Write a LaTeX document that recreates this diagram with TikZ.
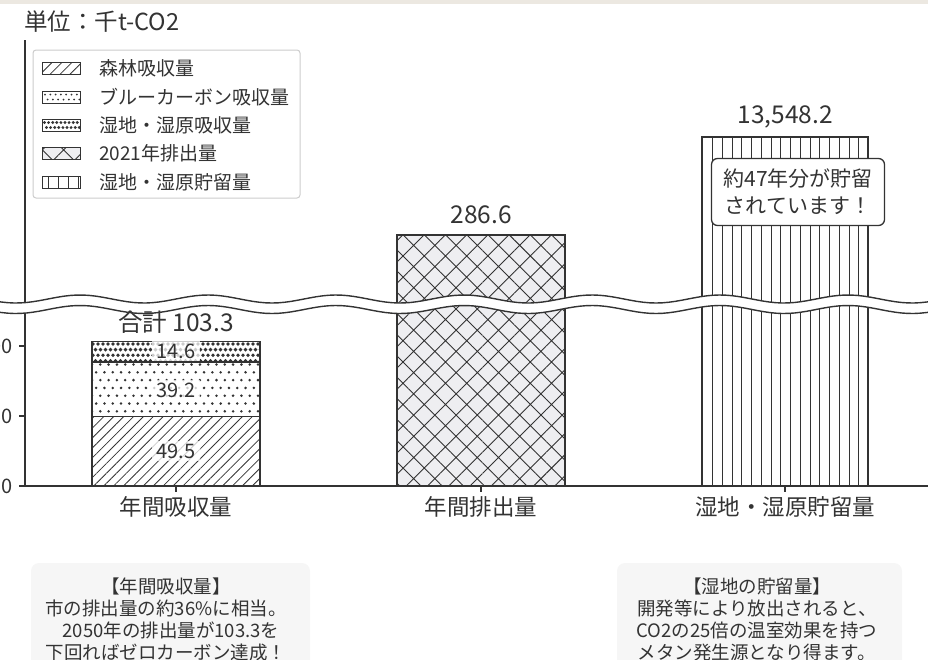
\documentclass[tikz,border=0pt]{standalone}
\usepackage{fontspec}
\setmainfont{Noto Sans CJK JP}
\usetikzlibrary{patterns.meta}
\definecolor{ink}{HTML}{333333}
\definecolor{legline}{HTML}{CCCCCC}
\definecolor{note}{HTML}{F6F6F6}
\definecolor{mesh}{HTML}{EEEEF1}
\definecolor{stripc}{HTML}{ECE8E1}
\newcommand{\fsz}[2]{\fontsize{#1}{#2}\selectfont}

\begin{document}
\begin{tikzpicture}[x=1pt,y=-1pt,line width=1.4pt,ink,text=ink,
  forestfill/.style={pattern={Lines[angle=45,distance=7pt,line width=0.8pt]},pattern color=ink},
  emitfill/.style={fill=mesh,postaction={pattern={Hatch[angle=45,distance=15pt,line width=0.9pt]},pattern color=ink}},
  storefill/.style={pattern={Lines[angle=90,distance=9.76pt,line width=0.9pt]},pattern color=ink},
  inval/.style={fill=white,fill opacity=0.75,text opacity=1,inner xsep=5pt,inner ysep=3pt,font=\fsz{20}{24}},
  topval/.style={font=\fsz{24.5}{28}},
  cat/.style={font=\fsz{22.5}{26}},
  legtext/.style={anchor=west,font=\fsz{19}{23}},
  ticklbl/.style={anchor=east,inner sep=1pt,font=\fsz{20}{24}},
  notetext/.style={align=center,font=\fsz{18.5}{22}}]
\useasboundingbox (0,0) rectangle (928,659);
\fill[stripc] (0,0) rectangle (928,4);
\node[anchor=west,font=\fsz{23.5}{27}] (unit) at (20,22) {単位：千t-CO2};
% axes
\draw (25,40) -- (25,486) -- (928,486);
\foreach \v/\y in {0/486, 50/416, 100/346} { \draw (19,\y) -- (25,\y); \node[ticklbl] (t\v) at (14,\y) {\v}; };
\foreach \x/\t in {176/年間吸収量, 481/年間排出量, 785/湿地・湿原貯留量} { \draw (\x,486) -- (\x,492); \node[cat] (c\x) at (\x,507) {\t}; };
% bars
\draw[forestfill] (92,486) rectangle (260,416.7);
\begin{scope} \clip (92,416.7) rectangle (260,361.8);
\foreach \j in {0,...,7} { \foreach \i in {0,...,20} { \fill ({92+4.15*mod(\j,2)+8.3*\i}, {364.5+7.8*\j}) circle[radius=1.4pt]; }; };
\end{scope}
\begin{scope} \clip (92,361.8) rectangle (260,341.4);
\foreach \j in {0,...,3} { \foreach \i in {0,...,34} { \fill ({93+2.5*mod(\j,2)+5*\i}, {344+5.6*\j}) circle[radius=1.9pt]; }; };
\end{scope}
\draw (92,416.7) rectangle (260,361.8); \draw (92,361.8) rectangle (260,341.4);
\draw[emitfill] (397,486) rectangle (565,235);
\draw[storefill] (702,486) rectangle (868,137);
\node[inval] (v49) at (176,451) {49.5}; \node[inval] (v39) at (176,390) {39.2}; \node[inval] (v14) at (176,351) {14.6};
% break
\fill[white] plot[domain=-5:933,samples=150] (\x,{299-4*cos(2.8125*(\x-80))}) -- plot[domain=933:-5,samples=150] (\x,{309.5-4*cos(2.8125*(\x-80))}) -- cycle;
\draw plot[domain=-5:933,samples=150] (\x,{299-4*cos(2.8125*(\x-80))});
\draw plot[domain=-5:933,samples=150] (\x,{309.5-4*cos(2.8125*(\x-80))});
\node[topval] (sum) at (176,322) {合計 103.3};
\node[topval] (emit) at (481,215) {286.6};
\node[topval] (store) at (785,117) {13,548.2};
\node[draw,fill=white,rounded corners=6pt,line width=1.3pt,align=center,font=\fsz{21}{27},minimum width=173pt,minimum height=67pt] (memo) at (798,192) {約47年分が貯留\\されています！};
% legend
\draw[legline,line width=1pt,rounded corners=3pt,fill=white] (33,50) rectangle (300,198);
\foreach \j in {0,1} { \foreach \i in {0,...,6} { \fill ({45+5.3*\i+2.6*mod(\j,2)}, {94.5+5*\j}) circle[radius=1pt]; }; };
\foreach \j in {0,1} { \foreach \i in {0,...,8} { \fill ({44.5+4.1*\i+2*mod(\j,2)}, {122.5+5*\j}) circle[radius=1.6pt]; }; };
\foreach \y/\s/\t in {68/forestfill/森林吸収量, 97//ブルーカーボン吸収量, 125//湿地・湿原吸収量, 153/emitfill/2021年排出量, 182/storefill/湿地・湿原貯留量} { \draw[\s,line width=1pt] (42,\y-6) rectangle (80,\y+6); \node[legtext] (leg\y) at (95,\y) {\t}; };
% notes
\fill[note,rounded corners=8pt] (31,563) rectangle (310,680);
\node[notetext] (noteA) at (166,619) {【年間吸収量】\\市の排出量の約36\%に相当。\\\hspace*{10pt}2050年の排出量が103.3を\\下回ればゼロカーボン達成！};
\fill[note,rounded corners=8pt] (617,563) rectangle (902,680);
\node[notetext] (noteB) at (757,619) {【湿地の貯留量】\\開発等により放出されると、\\CO2の25倍の温室効果を持つ\\メタン発生源となり得ます。};
\end{tikzpicture}
\end{document}
